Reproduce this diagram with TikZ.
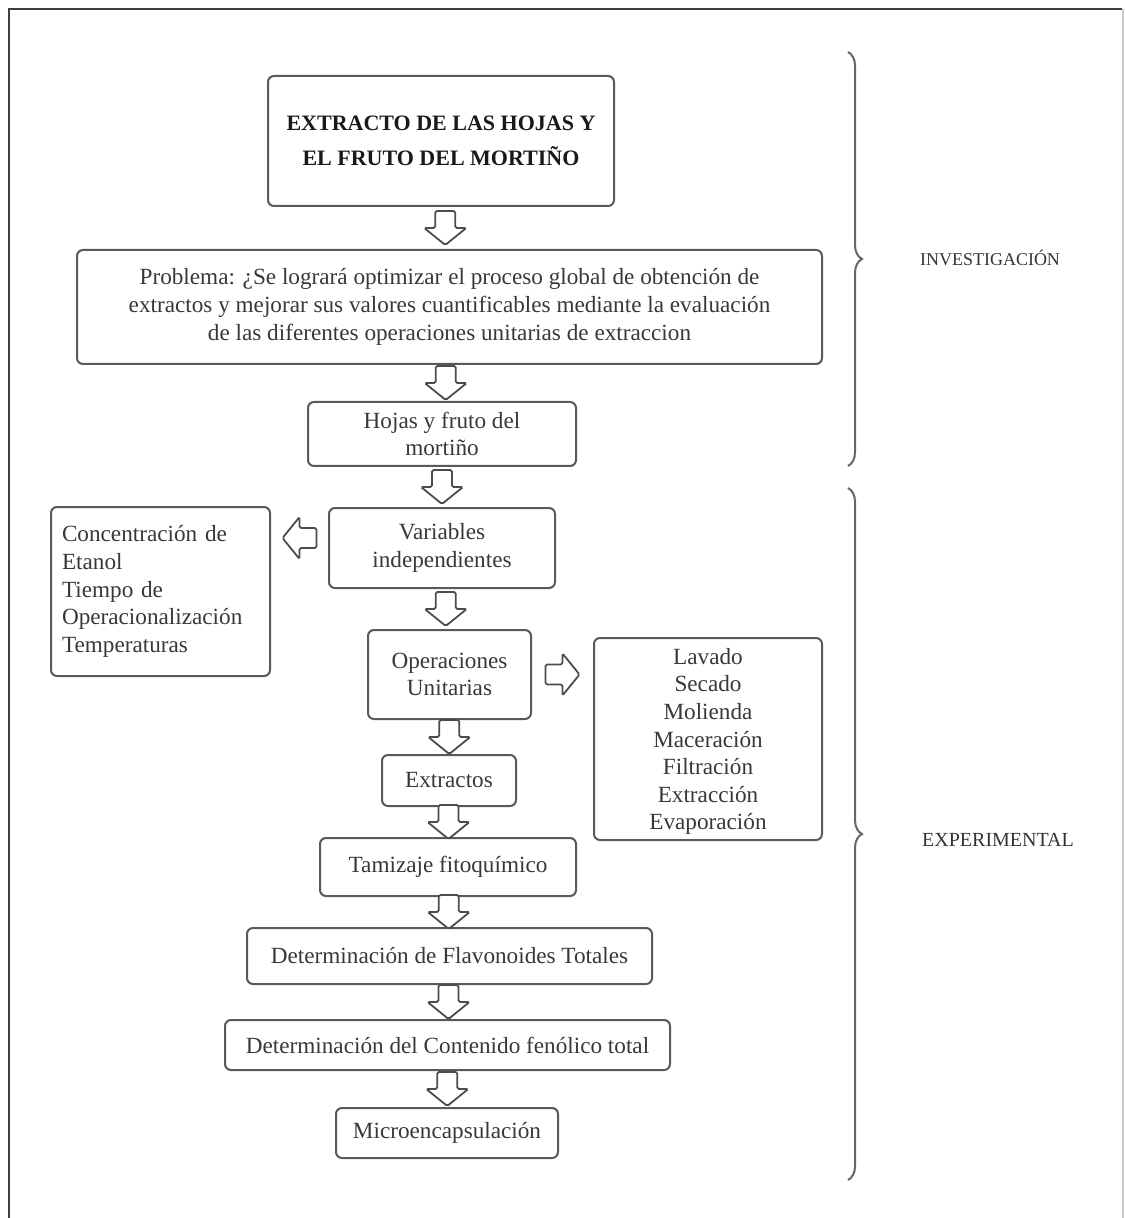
\documentclass[tikz,border=0pt]{standalone}
\usepackage{fontspec}
\setmainfont{Liberation Serif}
\usetikzlibrary{calc,positioning,decorations.pathreplacing}

\tikzset{
  caja/.style={draw=black!65, line width=1pt, rounded corners=3pt, align=center,
    text=black!78, inner sep=2pt, font=\fontsize{11.6}{13.8}\selectfont},
  flecha/.style={draw=black!70, line width=0.9pt, fill=white, rounded corners=0.8pt},
  pics/bloque/.style={code={
    \draw[flecha] (-17,-10) -- (0,-10) -- (0,-21) -- (17,0) -- (0,21) -- (0,10) -- (-17,10) -- cycle;}},
  llave/.style={decorate, decoration={brace, amplitude=7pt}, draw=black!60, line width=1pt},
  etiqueta/.style={text=black!80, font=\fontsize{9}{11}\selectfont}
}

\begin{document}
\begin{tikzpicture}[x=0.5pt, y=-0.5pt]
  \useasboundingbox (0,0) rectangle (1124,1218);

  % Marco exterior
  \draw[black!75, line width=1.2pt] (9,1218) -- (9,9) -- (1122,9);
  \draw[black!20, line width=0.6pt] (1123,9) -- (1123,1218);

  % Cajas del proceso
  \node[caja, minimum width=173pt, minimum height=65pt, text=black!90,
        font=\bfseries\fontsize{11}{17.5}\selectfont] (titulo) at (441,141)
        {EXTRACTO DE LAS HOJAS Y\\EL FRUTO DEL MORTIÑO};
  \node[caja, minimum width=372.5pt, minimum height=57pt] (problema) at (449.5,307)
        {Problema: ¿Se logrará optimizar el proceso global de obtención de\\
         extractos y mejorar sus valores cuantificables mediante la evaluación\\
         de las diferentes operaciones unitarias de extraccion};
  \node[caja, minimum width=134pt, minimum height=32pt] (hojas) at (442,434)
        {Hojas y fruto del\\mortiño};
  \node[caja, minimum width=113pt, minimum height=40pt] (variables) at (442,548)
        {Variables\\independientes};
  \node[caja, align=left, inner xsep=5.5pt, text width=98.5pt, minimum height=84.5pt]
        (condiciones) at (160.5,591.5)
        {Concentración de\\Etanol\\Tiempo de\\Operacionalización\\Temperaturas};
  \node[caja, minimum width=81.5pt, minimum height=44.5pt] (operaciones) at (449.5,674.5)
        {Operaciones\\Unitarias};
  \node[caja, minimum width=114pt, minimum height=101pt, text depth=-4pt] (pasos) at (708,739)
        {Lavado\\Secado\\Molienda\\Maceración\\Filtración\\Extracción\\Evaporación};
  \node[caja, minimum width=67pt, minimum height=25.5pt] (extractos) at (449,780.5)
        {Extractos};
  \node[caja, minimum width=128pt, minimum height=29pt] (tamizaje) at (448,867)
        {Tamizaje fitoquímico};
  \node[caja, minimum width=202.5pt, minimum height=28pt] (flavonoides) at (449.5,956)
        {Determinación de Flavonoides Totales};
  \node[caja, minimum width=222.5pt, minimum height=25pt] (fenolico) at (447.5,1045)
        {Determinación del Contenido fenólico total};
  \node[caja, minimum width=111pt, minimum height=25pt] (micro) at (447,1133)
        {Microencapsulación};

  % Flechas de bloque
  \pic[rotate=-90] at ($(titulo.south)!0.5!(problema.north)$) {bloque};
  \pic[rotate=-90] at ($(problema.south)!0.5!(hojas.north)$) {bloque};
  \pic[rotate=-90] at ($(hojas.south)!0.5!(variables.north)$) {bloque};
  \pic[rotate=-90] at ($(variables.south)!0.5!(operaciones.north)$) {bloque};
  \pic[rotate=-90] at ($(operaciones.south)!0.5!(extractos.north)$) {bloque};
  \pic[rotate=-90] at ($(extractos.south)!0.5!(tamizaje.north)$) {bloque};
  \pic[rotate=-90] at ($(tamizaje.south)!0.5!(flavonoides.north)$) {bloque};
  \pic[rotate=-90] at ($(flavonoides.south)!0.5!(fenolico.north)$) {bloque};
  \pic[rotate=-90] at ($(fenolico.south)!0.5!(micro.north)$) {bloque};
  \pic[rotate=180] at ($(condiciones.east |- variables.west)!0.5!(variables.west) + (0,-10)$) {bloque};
  \pic at ($(operaciones.east)!0.5!(operaciones.east -| pasos.west)$) {bloque};

  % Llaves laterales
  \coordinate (inv1) at (848,52);
  \coordinate (inv2) at (848,466);
  \coordinate (exp1) at (848,488);
  \coordinate (exp2) at (848,1180);
  \draw[llave] (inv1) -- (inv2);
  \draw[llave] (exp1) -- (exp2);
  \node[etiqueta] (investigacion) at (990,258) {INVESTIGACIÓN};
  \node[etiqueta, font=\fontsize{10}{12}\selectfont] (experimental) at (998,840) {EXPERIMENTAL};
\end{tikzpicture}
\end{document}
